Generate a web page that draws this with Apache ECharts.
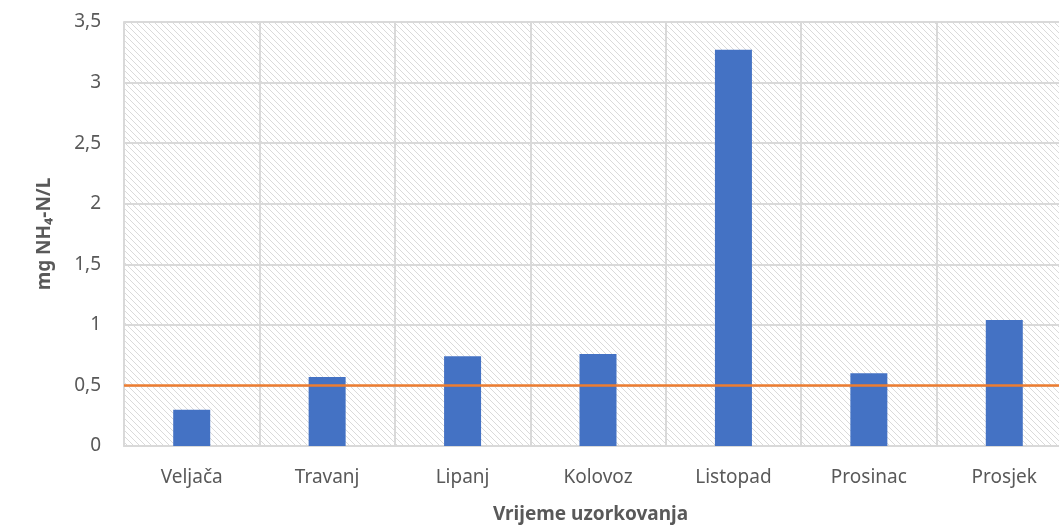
<!DOCTYPE html>
<html>
<head>
<meta charset="utf-8">
<script src="https://cdn.jsdelivr.net/npm/echarts@6/dist/echarts.min.js"></script>
<style>
  html, body { margin: 0; padding: 0; background: #fff; }
  #chart { width: 1059px; height: 525px; }
</style>
</head>
<body>
<div id="chart"></div>
<script>
const categories = ['Veljača', 'Travanj', 'Lipanj', 'Kolovoz', 'Listopad', 'Prosinac', 'Prosjek'];
const values = [0.30, 0.57, 0.74, 0.76, 3.27, 0.60, 1.04];
const limitValue = 0.5;

// diagonal hatch for the plot area
function hatch() {
  const c = document.createElement('canvas');
  c.width = 6; c.height = 6;
  const ctx = c.getContext('2d');
  ctx.fillStyle = '#ffffff';
  ctx.fillRect(0, 0, 6, 6);
  ctx.strokeStyle = '#dadada';
  ctx.lineWidth = 1;
  ctx.beginPath();
  ctx.moveTo(-1, -1); ctx.lineTo(7, 7);
  ctx.moveTo(-7, -1); ctx.lineTo(1, 7);
  ctx.moveTo(5, -1); ctx.lineTo(13, 7);
  ctx.stroke();
  return c;
}

const myChart = echarts.init(document.getElementById('chart'));
const font = '"Noto Sans", sans-serif';

myChart.setOption({
  animation: false,
  textStyle: { fontFamily: font },
  grid: {
    left: 124, width: 948, top: 22, bottom: 79,
    outerBoundsMode: 'none',
    show: true,
    borderWidth: 0,
    backgroundColor: { image: hatch(), repeat: 'repeat' }
  },
  xAxis: {
    type: 'category',
    data: categories,
    name: 'Vrijeme uzorkovanja',
    nameLocation: 'middle',
    nameGap: 59,
    nameTextStyle: { color: '#595959', fontSize: 19, fontWeight: 'bold', fontFamily: font, padding: [0, 15, 0, 0] },
    axisLine: { lineStyle: { color: '#d9d9d9', width: 2 } },
    axisTick: { show: false },
    axisLabel: { color: '#595959', fontSize: 19, margin: 22, fontFamily: font },
    splitLine: { show: true, lineStyle: { color: '#d9d9d9', width: 2 } }
  },
  yAxis: {
    type: 'value',
    min: 0, max: 3.5, interval: 0.5,
    name: 'mg NH₄-N/L',
    nameLocation: 'middle',
    nameGap: 70,
    nameRotate: 90,
    nameTextStyle: { color: '#595959', fontSize: 19, fontWeight: 'bold', fontFamily: font },
    axisLine: { show: true, lineStyle: { color: '#d9d9d9', width: 2 } },
    axisTick: { show: false },
    axisLabel: {
      color: '#595959', fontSize: 19, margin: 23, fontFamily: font,
      formatter: v => String(v).replace('.', ',')
    },
    splitLine: { lineStyle: { color: '#d9d9d9', width: 2 } }
  },
  series: [{
    type: 'bar',
    data: values,
    barWidth: 37,
    itemStyle: { color: '#4472c4' },
    markLine: {
      silent: true,
      symbol: 'none',
      label: { show: false },
      lineStyle: { color: '#ed7d31', width: 2.5, type: 'solid' },
      data: [{ yAxis: limitValue }]
    }
  }]
});
</script>
</body>
</html>
